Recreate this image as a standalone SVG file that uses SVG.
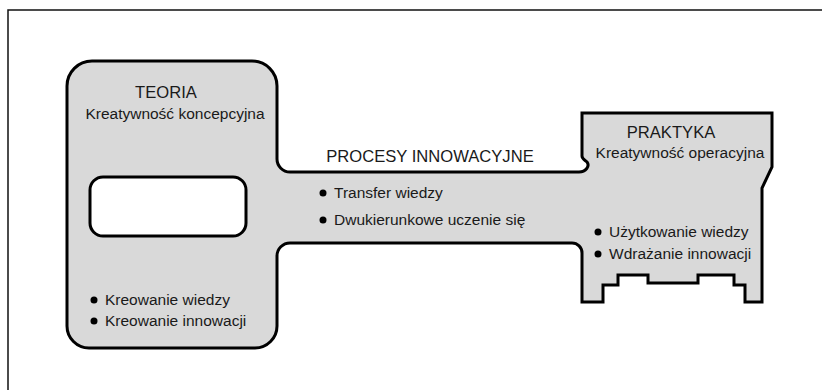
<svg xmlns="http://www.w3.org/2000/svg" width="822" height="390" viewBox="0 0 822 390">
  <style>
    .frame { fill: none; stroke: #111; stroke-width: 1.5; }
    .shape { fill: #d9d9d9; stroke: #000; stroke-width: 3; stroke-linejoin: miter; }
    .hole { fill: #fff; stroke: #000; stroke-width: 3; }
    .title { font-family: "Liberation Sans", Arial, sans-serif; font-size: 16.6px; fill: #1a1a1a; text-anchor: middle; }
    .sub { font-family: "Liberation Sans", Arial, sans-serif; font-size: 15.5px; fill: #1a1a1a; text-anchor: middle; }
    .item { font-family: "Liberation Sans", Arial, sans-serif; font-size: 15.5px; fill: #1a1a1a; }
    .dot { fill: #000; }
  </style>
  <rect width="822" height="390" fill="#fff"/>
  <path class="frame" d="M8,390 V10 H822"/>
  <g id="key-shape">
    <path class="shape" d="M92,61 H252 A25,25 0 0 1 277,86 V159 A13,13 0 0 0 290,172 H579 C586,172 590,166 587,162 C585,160 582,159 582,156 V113 H772 V167 L762,188 V302 H745 V285 H734 V275 H698 V283 H648 V275 H618 V285 H603 V302 H582 V253 A10,10 0 0 0 572,243 H290 A13,13 0 0 0 277,256 V326 A22,22 0 0 1 255,348 H89 A22,22 0 0 1 67,326 V86 A25,25 0 0 1 92,61 Z"/>
  </g>
  <g id="teoria">
    <rect class="hole" x="90" y="177" width="156" height="59" rx="13" ry="13"/>
    <text class="title" x="166" y="98">TEORIA</text>
    <text class="sub" x="175" y="119">Kreatywność koncepcyjna</text>
    <circle class="dot" cx="94" cy="300" r="3.5"/>
    <text class="item" x="105" y="305">Kreowanie wiedzy</text>
    <circle class="dot" cx="94" cy="321" r="3.5"/>
    <text class="item" x="105" y="326">Kreowanie innowacji</text>
  </g>
  <g id="procesy">
    <text class="title" x="430" y="162">PROCESY INNOWACYJNE</text>
    <circle class="dot" cx="323" cy="193" r="3.5"/>
    <text class="item" x="334" y="198">Transfer wiedzy</text>
    <circle class="dot" cx="323" cy="220" r="3.5"/>
    <text class="item" x="334" y="225">Dwukierunkowe uczenie się</text>
  </g>
  <g id="praktyka">
    <text class="title" x="671" y="138">PRAKTYKA</text>
    <text class="sub" x="680" y="158">Kreatywność operacyjna</text>
    <circle class="dot" cx="598" cy="232" r="3.5"/>
    <text class="item" x="609" y="237">Użytkowanie wiedzy</text>
    <circle class="dot" cx="598" cy="254" r="3.5"/>
    <text class="item" x="609" y="259">Wdrażanie innowacji</text>
  </g>
  <g id="connectors"/>
</svg>
